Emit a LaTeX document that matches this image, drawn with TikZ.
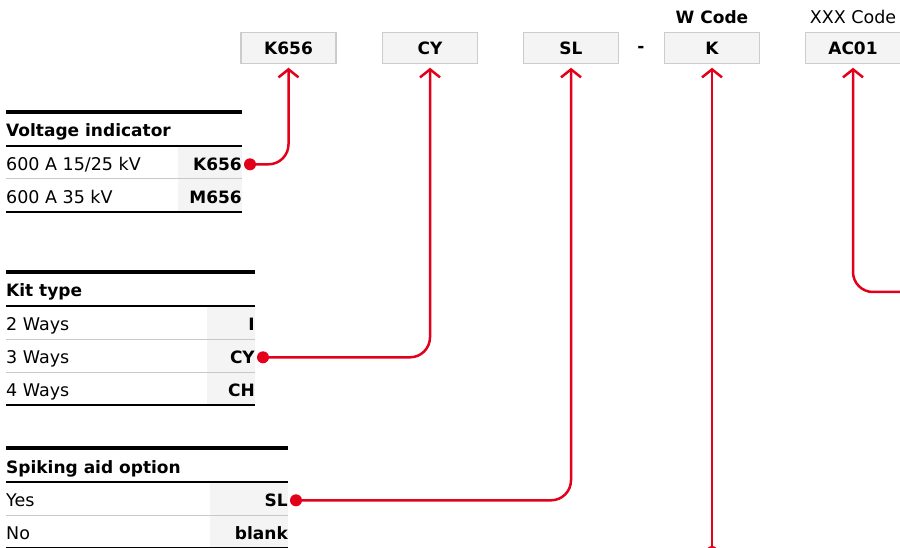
\documentclass[tikz,border=0pt]{standalone}
\usepackage{fontspec}
\setmainfont{DejaVu Sans}
\usetikzlibrary{arrows.meta, positioning}

\definecolor{abbred}{HTML}{E2001A}
\definecolor{cellgray}{HTML}{F4F4F4}
\definecolor{edgegray}{HTML}{CCCCCC}
\definecolor{sepgray}{HTML}{C8C8C8}

\begin{document}
\begin{tikzpicture}[x=1pt, y=-1pt,
    font=\fontsize{17.5}{20}\selectfont,
    codebox/.style={draw=edgegray, line width=1.5pt, fill=cellgray, minimum width=95pt, minimum height=31pt, inner sep=0pt, font=\fontsize{17}{20}\selectfont\bfseries},
    headtext/.style={anchor=base west, inner sep=0pt, font=\fontsize{17}{20}\selectfont\bfseries},
    rowtext/.style={anchor=base west, inner sep=0pt},
    valtext/.style={anchor=base east, inner sep=0pt, font=\fontsize{17}{20}\selectfont\bfseries},
    toprule/.style={line width=4pt},
    midrule/.style={line width=2pt},
    seprule/.style={sepgray, line width=1pt},
    pointer/.style={abbred, line width=2.5pt, rounded corners=20pt, -{Straight Barb[length=8pt, width=20pt]}, shorten >=3.5pt},
    pin/.style={fill=abbred}]

    \useasboundingbox (0,0) rectangle (900,548);

    % Code boxes
    \foreach \nm/\code/\xx in {k656box/K656/288.5, cybox/CY/430, slbox/SL/571, kbox/K/712, acbox/AC01/853}
        \node[codebox] (\nm) at (\xx, 48) {\code};
    \node[font=\fontsize{17}{20}\selectfont\bfseries] (dash) at (641, 49) {-};
    \node[anchor=base, font=\fontsize{17}{20}\selectfont\bfseries] (wcode) at ([yshift=8.5pt]kbox.north) {W Code};
    \node[anchor=base] (xxxcode) at ([yshift=8.5pt]acbox.north) {XXX Code};

    % Voltage indicator
    \def\tabL{6}     % left edge
    \def\tabR{242}   % right edge
    \def\tabC{178}   % value column
    \def\tabT{112}   % top rule
    \fill[cellgray] (\tabC, \tabT+34) rectangle (\tabR, \tabT+100);
    \draw[toprule] (\tabL, \tabT) -- (\tabR, \tabT);
    \node[headtext] (voltage) at (\tabL, \tabT+25) {Voltage indicator};
    \draw[midrule] (\tabL, \tabT+34) -- (\tabR, \tabT+34);
    \foreach \lbl/\val/\nm [count=\i] in {{600 A 15/25 kV}/K656/k656, {600 A 35 kV}/M656/m656}{
        \node[rowtext] (\nm lbl) at (\tabL, \tabT+25.5+33*\i) {\lbl};
        \node[valtext] (\nm) at (\tabR, \tabT+25.5+33*\i) {\val};
        \draw[seprule] (\tabL, \tabT+34+33*\i) -- (\tabR, \tabT+34+33*\i);
    }
    \draw[midrule] (\tabL, \tabT+100) -- (\tabR, \tabT+100);

    % Kit type
    \def\tabR{255}
    \def\tabC{207}
    \def\tabT{272}
    \fill[cellgray] (\tabC, \tabT+34) rectangle (\tabR, \tabT+133);
    \draw[toprule] (\tabL, \tabT) -- (\tabR, \tabT);
    \node[headtext] (kit) at (\tabL, \tabT+25) {Kit type};
    \draw[midrule] (\tabL, \tabT+34) -- (\tabR, \tabT+34);
    \foreach \lbl/\val/\nm [count=\i] in {2 Ways/I/i, 3 Ways/CY/cy, 4 Ways/CH/ch}{
        \node[rowtext] (\nm lbl) at (\tabL, \tabT+25.5+33*\i) {\lbl};
        \node[valtext] (\nm) at (\tabR, \tabT+25.5+33*\i) {\val};
        \draw[seprule] (\tabL, \tabT+34+33*\i) -- (\tabR, \tabT+34+33*\i);
    }
    \draw[midrule] (\tabL, \tabT+133) -- (\tabR, \tabT+133);

    % Spiking aid option
    \def\tabR{288}
    \def\tabC{210}
    \def\tabT{448}
    \fill[cellgray] (\tabC, \tabT+34) rectangle (\tabR, \tabT+100);
    \draw[toprule] (\tabL, \tabT) -- (\tabR, \tabT);
    \node[headtext] (spiking) at (\tabL, \tabT+25) {Spiking aid option};
    \draw[midrule] (\tabL, \tabT+34) -- (\tabR, \tabT+34);
    \foreach \lbl/\val/\nm [count=\i] in {Yes/SL/sl, No/blank/blank}{
        \node[rowtext] (\nm lbl) at (\tabL, \tabT+25.5+33*\i) {\lbl};
        \node[valtext] (\nm) at (\tabR, \tabT+25.5+33*\i) {\val};
        \draw[seprule] (\tabL, \tabT+34+33*\i) -- (\tabR, \tabT+34+33*\i);
    }
    \draw[midrule] (\tabL, \tabT+100) -- (\tabR, \tabT+100);

    % Pointers
    \coordinate (k656dot) at ([xshift=8pt]k656.east);
    \coordinate (cydot) at ([xshift=8pt]cy.east);
    \coordinate (sldot) at ([xshift=8pt]sl.east);
    \coordinate (wstart) at (712, 552);
    \coordinate (xxxstart) at (906, 292);

    \draw[pointer] (k656dot) -| (k656box);
    \draw[pointer] (cydot) -| (cybox);
    \draw[pointer] (sldot) -| (slbox);
    \draw[pointer] (wstart) -- (kbox);
    \draw[pointer] (xxxstart) -| (acbox);
    \foreach \p in {k656dot, cydot, sldot, wstart}
        \fill[pin] (\p) circle (6pt);

\end{tikzpicture}
\end{document}
